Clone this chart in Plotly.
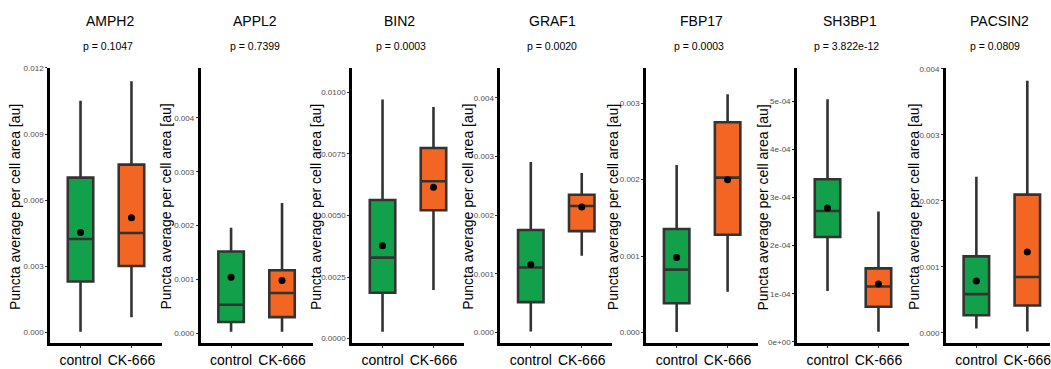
import plotly.graph_objects as go

# ---------------- data ----------------
genes = ["AMPH2", "APPL2", "BIN2", "GRAF1", "FBP17", "SH3BP1", "PACSIN2"]
p_values = ["p = 0.1047", "p = 0.7399", "p = 0.0003", "p = 0.0020",
            "p = 0.0003", "p = 3.822e-12", "p = 0.0809"]
groups = ["control", "CK-666"]

# control group statistics
ctrl_low = [0.00004, 0.00003, 0.00028, 0.00002, 0.00001, 1.055e-4, 0.000068]
ctrl_q1 = [0.00232, 0.00021, 0.00186, 0.00052, 0.000385, 2.18e-4, 0.000267]
ctrl_med = [0.00425, 0.00053, 0.00329, 0.00111, 0.000824, 2.72e-4, 0.000588]
ctrl_q3 = [0.00703, 0.00152, 0.00563, 0.00175, 0.001355, 3.38e-4, 0.001159]
ctrl_high = [0.01051, 0.00196, 0.00971, 0.00291, 0.00219, 5.045e-4, 0.002367]
ctrl_mean = [0.00454, 0.00104, 0.00377, 0.00116, 0.000983, 2.785e-4, 0.000787]

# CK-666 group statistics
ck_low = [0.0007, 0.00003, 0.00197, 0.00131, 0.000535, 0.21e-4, 0.00002]
ck_q1 = [0.00302, 0.00030, 0.00521, 0.00173, 0.00128, 0.73e-4, 0.000416]
ck_med = [0.00452, 0.00075, 0.00639, 0.00216, 0.002026, 1.15e-4, 0.000847]
ck_q3 = [0.00762, 0.00117, 0.00774, 0.00235, 0.00275, 1.527e-4, 0.002095]
ck_high = [0.0114, 0.00242, 0.00941, 0.00272, 0.003115, 2.71e-4, 0.003819]
ck_mean = [0.00521, 0.00098, 0.00615, 0.00214, 0.0020, 1.2e-4, 0.001227]

# tick values / labels per panel
tick_vals = [
    [0, 0.003, 0.006, 0.009, 0.012],
    [0, 0.001, 0.002, 0.003, 0.004],
    [0, 0.0025, 0.005, 0.0075, 0.01],
    [0, 0.001, 0.002, 0.003, 0.004],
    [0, 0.001, 0.002, 0.003],
    [0, 1e-4, 2e-4, 3e-4, 4e-4, 5e-4],
    [0, 0.001, 0.002, 0.003, 0.004],
]
tick_text = [
    ["0.000", "0.003", "0.006", "0.009", "0.012"],
    ["0.000", "0.001", "0.002", "0.003", "0.004"],
    ["0.0000", "0.0025", "0.0050", "0.0075", "0.0100"],
    ["0.000", "0.001", "0.002", "0.003", "0.004"],
    ["0.000", "0.001", "0.002", "0.003"],
    ["0e+00", "1e-04", "2e-04", "3e-04", "4e-04", "5e-04"],
    ["0.000", "0.001", "0.002", "0.003", "0.004"],
]

# ---------------- layout geometry (pixels) ----------------
W, H = 1051, 369
axis_x = [50, 200.7, 352.3, 500.7, 646.7, 797.7, 946.7]
panel_w = 112.2
y_top, y_bot = 65, 346
y_ranges = [(-0.000488, 0.01201), (-0.000188, 0.004931), (-0.000197, 0.011),
            (-0.000184, 0.004515), (-0.000141, 0.003462), (-0.0000034, 0.00057),
            (-0.000159, 0.004016)]
title_x = [110, 255, 400, 553, 702, 851, 1000]
p_x = [108, 255, 401, 553, 700, 847, 996]
ylab_off = [35, 34, 36, 32.5, 33, 33.5, 32]

GREEN = "#12A04A"
ORANGE = "#F26522"
LINE = "#333333"
FONT = "Liberation Sans, Arial, sans-serif"

fig = go.Figure()
layout = dict(width=W, height=H, margin=dict(l=0, r=0, t=0, b=0),
              paper_bgcolor="white", plot_bgcolor="white", showlegend=False,
              font=dict(family=FONT, color="black"))
annotations = []

for i, g in enumerate(genes):
    n = "" if i == 0 else str(i + 1)
    xa, ya = "x" + n, "y" + n
    x0 = axis_x[i]
    x1 = min(x0 + panel_w, W)
    xr_end = -0.6 + 2.2 * (x1 - x0) / panel_w
    for grp, col, lo, q1, med, q3, hi in [
        ("control", GREEN, ctrl_low, ctrl_q1, ctrl_med, ctrl_q3, ctrl_high),
        ("CK-666", ORANGE, ck_low, ck_q1, ck_med, ck_q3, ck_high),
    ]:
        fig.add_trace(go.Box(
            x=[grp], q1=[q1[i]], median=[med[i]], q3=[q3[i]],
            lowerfence=[lo[i]], upperfence=[hi[i]],
            fillcolor=col, line=dict(color=LINE, width=2.6),
            width=0.5, whiskerwidth=0, boxpoints=False,
            xaxis=xa, yaxis=ya, hoverinfo="skip"))
    fig.add_trace(go.Scatter(
        x=groups, y=[ctrl_mean[i], ck_mean[i]], mode="markers",
        marker=dict(color="black", size=7), xaxis=xa, yaxis=ya, hoverinfo="skip"))

    layout["xaxis" + n] = dict(
        domain=[x0 / W, x1 / W], anchor=ya, type="category",
        categoryorder="array", categoryarray=groups,
        range=[-0.6, xr_end], showline=True, linecolor="black", linewidth=2.5,
        ticks="outside", ticklen=2, tickcolor=LINE, showgrid=False, zeroline=False,
        tickfont=dict(size=14, color="black", family=FONT))
    layout["yaxis" + n] = dict(
        domain=[1 - y_bot / H, 1 - y_top / H], anchor=xa,
        range=list(y_ranges[i]), showline=True, linecolor="black", linewidth=2.5,
        ticks="outside", ticklen=2, tickcolor=LINE, showgrid=False, zeroline=False,
        tickvals=tick_vals[i], ticktext=tick_text[i],
        tickfont=dict(size=8, color="#4D4D4D", family=FONT))

    annotations.append(dict(text=g, x=title_x[i] / W, y=1 - 17 / H, xref="paper",
                            yref="paper", xanchor="center", yanchor="middle",
                            showarrow=False, font=dict(size=14, color="black")))
    annotations.append(dict(text=p_values[i], x=p_x[i] / W, y=1 - 43 / H, xref="paper",
                            yref="paper", xanchor="center", yanchor="middle",
                            showarrow=False, font=dict(size=10.5, color="black")))
    annotations.append(dict(text="Puncta average per cell area [au]",
                            x=(x0 - ylab_off[i]) / W, y=1 - 207 / H,
                            xref="paper", yref="paper", xanchor="center",
                            yanchor="middle", textangle=-90, showarrow=False,
                            font=dict(size=14, color="black")))

layout["annotations"] = annotations
fig.update_layout(**layout)
fig.write_html("out.html")
